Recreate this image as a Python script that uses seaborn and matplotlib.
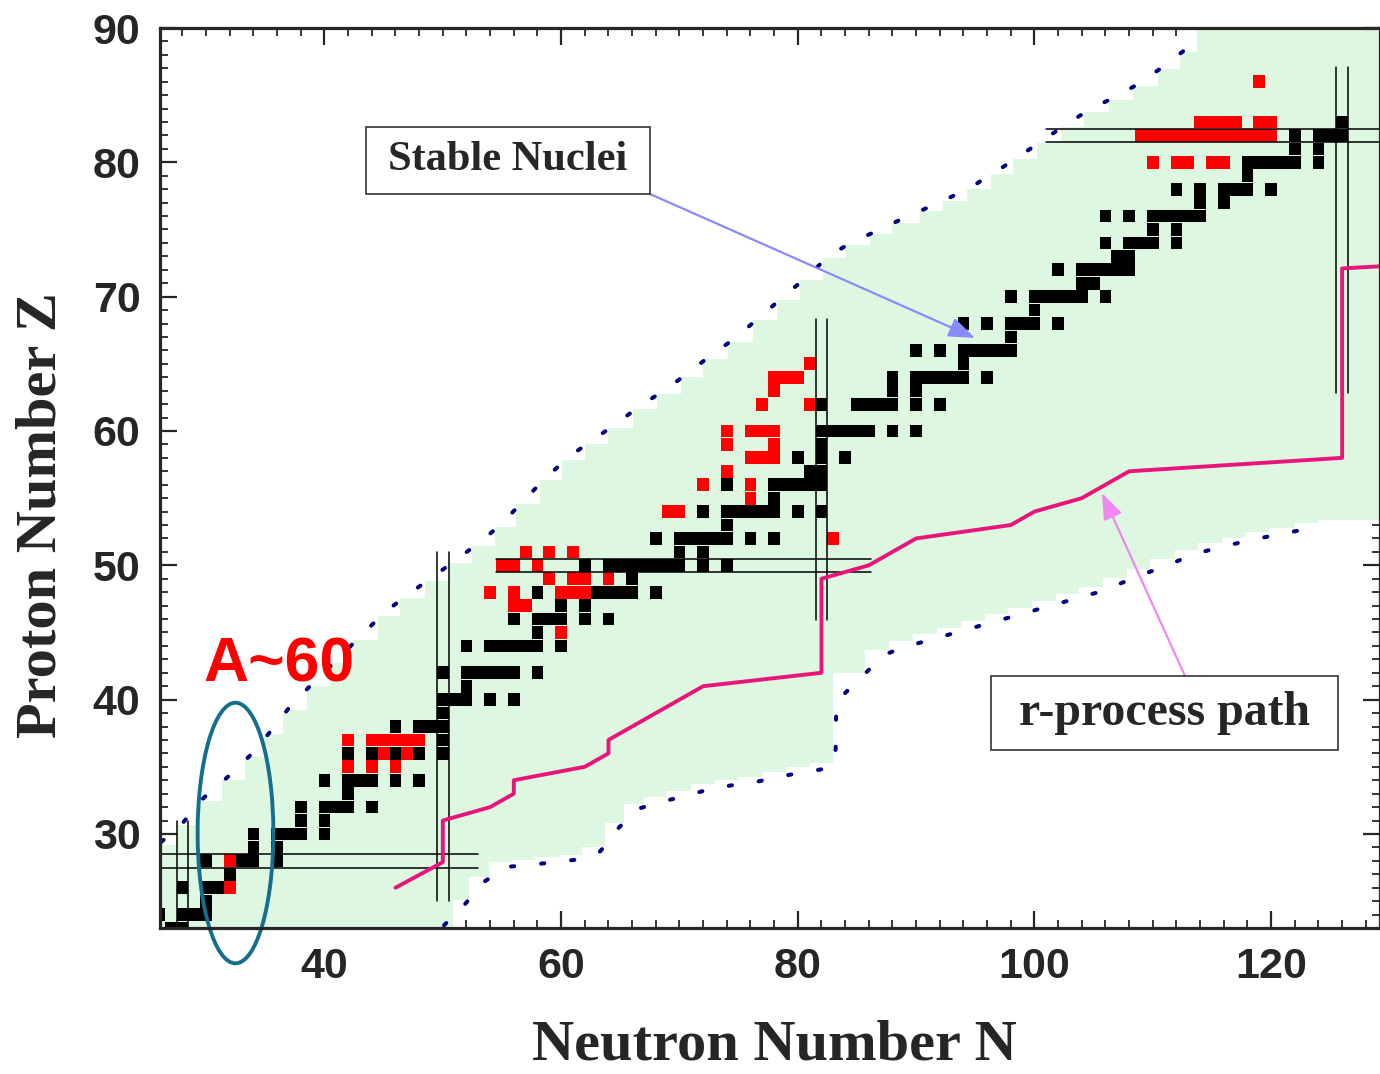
import matplotlib
matplotlib.use("Agg")
import matplotlib.pyplot as plt
import seaborn as sns
from matplotlib.patches import Ellipse, Rectangle
from matplotlib.ticker import MultipleLocator

sns.set_style("ticks")
plt.rcParams['font.family'] = ['Liberation Sans', 'DejaVu Sans']
plt.rcParams['font.weight'] = 'bold'

# ---------------- data ----------------
# stable nuclei: one list of neutron numbers per proton number
stable_Z = [23, 24, 25, 26, 27, 28, 29, 30, 31, 32, 33, 34, 35, 36, 37, 38, 39, 40, 41, 42,
            44, 45, 46, 47, 48, 49, 50, 51, 52, 53, 54, 55, 56, 57, 58, 59, 60,
            62, 63, 64, 65, 66, 67, 68, 69, 70, 71, 72, 73, 74, 75, 76, 77, 78, 79, 80,
            81, 82, 83]
stable_N = [[27, 28], [26, 28, 29, 30], [30], [28, 30, 31, 32], [32], [30, 32, 33, 34, 36],
            [34, 36], [34, 36, 37, 38, 40], [38, 40], [38, 40, 41, 42, 44], [42],
            [40, 42, 43, 44, 46, 48], [44, 46], [42, 44, 46, 47, 48, 50], [48, 50],
            [46, 48, 49, 50], [50], [50, 51, 52, 54, 56], [52], [50, 52, 53, 54, 55, 56, 58],
            [52, 54, 55, 56, 57, 58, 60], [58], [56, 58, 59, 60, 62, 64], [60, 62],
            [58, 60, 62, 63, 64, 65, 66, 68], [64, 66], [62, 64, 65, 66, 67, 68, 69, 70, 72, 74],
            [70, 72], [68, 70, 71, 72, 73, 74, 76, 78], [74], [70, 72, 74, 75, 76, 77, 78, 80, 82],
            [78], [74, 76, 78, 79, 80, 81, 82], [81, 82], [78, 80, 82, 84], [82],
            [82, 83, 84, 85, 86, 88, 90],
            [82, 85, 86, 87, 88, 90, 92], [88, 90], [88, 90, 91, 92, 93, 94, 96], [94],
            [90, 92, 94, 95, 96, 97, 98], [98], [94, 96, 98, 99, 100, 102], [100],
            [98, 100, 101, 102, 103, 104, 106], [104, 105], [102, 104, 105, 106, 107, 108],
            [107, 108], [106, 108, 109, 110, 112], [110, 112], [106, 108, 110, 111, 112, 113, 114],
            [114, 116], [112, 114, 116, 117, 118, 120], [118], [116, 118, 119, 120, 121, 122, 124],
            [122, 124], [122, 124, 125, 126], [126]]

# highlighted (red) nuclei
red_Z = [26, 28, 35, 36, 37, 45, 47, 48, 49, 50, 51, 52, 54, 55, 56, 57, 58, 59, 60,
         62, 63, 64, 65, 80, 82, 83, 86]
red_N = [[32], [32], [42, 44, 46], [45, 47], [42, 44, 45, 46, 47, 48], [60], [56, 57],
         [54, 56, 60, 61, 62], [59, 61, 62, 64], [55, 56, 58], [57, 59, 61], [83], [69, 70],
         [76], [72, 76], [74], [76, 77, 78], [74, 78], [74, 76, 77, 78],
         [77, 81], [78], [78, 79, 80], [81], [110, 112, 113, 115, 116],
         [109, 110, 111, 112, 113, 114, 115, 116, 117, 118, 119, 120],
         [114, 115, 116, 117, 119, 120], [119]]

# blue dotted limits
up_dot_N = [26.2, 28.1, 29.8, 31.9, 33.9, 35.5, 37.1, 39.1, 41.1, 43.0, 45.1, 47.0, 49.1,
            51.1, 53.1, 55.0, 56.8, 58.8, 60.7, 62.6, 64.6, 66.7, 68.7, 70.7, 72.6, 74.7,
            76.8, 78.8, 80.8, 82.7, 84.7, 86.7, 88.6, 90.9, 92.9, 94.9, 96.9, 98.8, 100.8,
            102.8, 104.8, 106.9, 108.9, 111.0, 112.9]
up_dot_Z = [29.4, 30.9, 32.7, 34.3, 36.0, 37.7, 39.5, 41.3, 43.0, 44.7, 46.5, 47.8, 49.1,
            50.4, 51.7, 53.1, 54.8, 56.6, 58.1, 59.3, 60.5, 61.9, 63.0, 64.3, 65.6, 66.9,
            68.5, 70.0, 71.5, 73.1, 74.1, 74.9, 75.7, 76.6, 77.4, 78.3, 79.4, 80.5, 81.7,
            82.9, 84.0, 84.9, 85.9, 87.2, 88.5]
lo_dot_N = [50.1, 51.8, 53.5, 55.4, 57.4, 59.4, 61.4, 63.3, 64.9, 66.6, 68.5, 70.6, 72.6,
            74.6, 76.6, 78.6, 80.6, 82.6, 83.2, 83.2, 83.3, 85.3, 87.3, 89.35, 91.4, 93.4,
            95.4, 97.4, 99.4, 101.4, 103.4, 105.4, 107.4, 109.4, 111.5, 113.4, 115.45,
            117.4, 119.5, 121.5, 123.6]
lo_dot_Z = [23.2, 24.7, 26.45, 27.55, 27.7, 27.9, 28.1, 28.7, 30.5, 31.9, 32.4, 32.85,
            33.35, 33.65, 33.9, 34.3, 34.6, 34.9, 36.3, 38.1, 39.9, 41.6, 43.35, 44.0, 44.5,
            45.0, 45.5, 46.0, 46.5, 47.0, 47.5, 48.0, 48.7, 49.4, 50.1, 50.8, 51.3, 51.7,
            52.1, 52.45, 52.8]

# green band of known nuclei: staircase corners
band_up_N = [20.0, 27.5, 29.2, 31.3, 33.3, 34.9, 36.5, 38.5, 40.5, 42.4, 44.5, 46.4, 48.5,
             50.5, 52.5, 54.4, 56.2, 58.2, 60.1, 62.0, 64.0, 66.1, 68.1, 70.1, 72.0, 74.1,
             76.2, 78.2, 80.2, 82.1, 84.1, 86.1, 88.0, 90.3, 92.3, 94.3, 96.3, 98.2, 100.2,
             102.2, 104.2, 106.3, 108.3, 110.4, 112.3, 113.7]
band_up_Z = [29.15, 30.65, 32.45, 34.05, 35.75, 37.45, 39.25, 41.05, 42.75, 44.45, 46.25,
             47.55, 48.85, 50.15, 51.45, 52.85, 54.55, 56.35, 57.85, 59.05, 60.25, 61.65,
             62.75, 64.05, 65.35, 66.65, 68.25, 69.75, 71.25, 72.85, 73.85, 74.65, 75.45,
             76.35, 77.15, 78.05, 79.15, 80.25, 81.45, 82.65, 83.75, 84.65, 85.65, 86.95,
             88.25, 95.0]
band_lo_N = [50.9, 52.2, 53.9, 55.8, 57.8, 59.8, 61.8, 63.7, 65.3, 67.0, 68.9, 71.0, 73.0,
             75.0, 77.0, 79.0, 81.0, 83.0, 83.0, 83.0, 83.0, 85.7, 87.7, 89.75, 91.8, 93.8,
             95.8, 97.8, 99.8, 101.8, 103.8, 105.8, 107.8, 109.8, 111.9, 113.8, 115.85,
             117.8, 119.9, 121.9, 124.0, 140.0]
band_lo_Z = [20.0, 25.05, 26.8, 27.9, 28.05, 28.25, 28.45, 29.05, 30.85, 32.25, 32.75, 33.2,
             33.7, 34.0, 34.25, 34.65, 34.95, 35.25, 36.65, 38.45, 40.25, 41.95, 43.7, 44.35,
             44.85, 45.35, 45.85, 46.35, 46.85, 47.35, 47.85, 48.35, 49.05, 49.75, 50.45,
             51.15, 51.65, 52.05, 52.45, 52.8, 53.15, 53.4]

# r-process path
r_N = [46, 50, 50, 54, 56, 56, 62, 64, 64, 72, 82, 82, 86, 90, 98, 100, 104, 108, 126, 126, 130]
r_Z = [26, 27.9, 31, 32, 33, 34, 35, 36, 37, 41, 42, 49, 50, 52, 53, 54, 55, 57, 58, 72.1, 72.3]

# magic-number double lines (edges of the magic cell) and their extents
magic_N = [28, 50, 82, 126]
magic_N_span = [(23, 31), (25, 51), (45.9, 68.3), (62.8, 87.1)]
magic_Z = [28, 50, 82]
magic_Z_span = [(26, 53), (54.5, 86.2), (101, 131)]

# ---------------- figure ----------------
W, H = 1380, 1074
fig = plt.figure(figsize=(W / 100, H / 100), dpi=100)
ax = fig.add_axes([160 / W, 146 / H, 1220 / W, 900 / H])
ax.set_xlim(26.1, 129.2)
ax.set_ylim(23, 90)

# green band
verts = [(band_up_N[0], 20.0)]
for i in range(len(band_up_N)):
    verts.append((band_up_N[i], band_up_Z[i - 1] if i > 0 else band_up_Z[0]))
    verts.append((band_up_N[i], band_up_Z[i]))
verts.append((140.0, band_up_Z[-1]))
low = []
for i in range(len(band_lo_N)):
    low.append((band_lo_N[i], band_lo_Z[i]))
    if i + 1 < len(band_lo_Z):
        low.append((band_lo_N[i], band_lo_Z[i + 1]))
verts += low[::-1]
ax.fill([v[0] for v in verts], [v[1] for v in verts], color='#ddf7e1', lw=0, zorder=1)

# dotted limits
for xs, ys in [(up_dot_N, up_dot_Z), (lo_dot_N, lo_dot_Z)]:
    ax.plot(xs, ys, color='#000080', lw=2.9, linestyle=(0, (0.8, 6.7)),
            dash_capstyle='round', zorder=2)

# cells
cell_h = 0.95
sN = [n for ns in stable_N for n in ns]
sZ = [z for z, ns in zip(stable_Z, stable_N) for _ in ns]
ax.bar(sN, cell_h, width=1.0, bottom=[z - cell_h / 2 for z in sZ], color='black',
       linewidth=0, zorder=3)
rN = [n for ns in red_N for n in ns]
rZ = [z for z, ns in zip(red_Z, red_N) for _ in ns]
ax.bar(rN, cell_h, width=1.0, bottom=[z - cell_h / 2 for z in rZ], color='#ff0000',
       linewidth=0, zorder=4)

# magic lines
for n, (z0, z1) in zip(magic_N, magic_N_span):
    for off in (-0.5, 0.5):
        ax.plot([n + off, n + off], [z0, z1], color='black', lw=1.1, zorder=5)
for z, (n0, n1) in zip(magic_Z, magic_Z_span):
    for off in (-0.5, 0.5):
        ax.plot([n0, n1], [z + off, z + off], color='black', lw=1.1, zorder=5)

# r-process path
sns.lineplot(x=r_N, y=r_Z, sort=False, estimator=None, color='#e8157b', lw=2.8,
             zorder=6, ax=ax)

# axes cosmetics
ax.xaxis.set_major_locator(MultipleLocator(20))
ax.xaxis.set_minor_locator(MultipleLocator(2))
ax.yaxis.set_major_locator(MultipleLocator(10))
ax.yaxis.set_minor_locator(MultipleLocator(1))
ax.tick_params(which='both', direction='in', top=True, right=True)
ax.tick_params(which='major', length=12, width=1.6, labelsize=31, pad=14)
ax.tick_params(which='minor', length=6, width=1.3)
for sp in ax.spines.values():
    sp.set_linewidth(2.3)
    sp.set_zorder(10)

serif = ['Liberation Serif', 'DejaVu Serif']
fig.text(42 / W, 1 - 515 / H, 'Proton Number Z', rotation=90, ha='center', va='center',
         fontsize=42, family=serif, fontweight='bold')
fig.text(774 / W, 1 - 1046 / H, 'Neutron Number N', ha='center', va='center',
         fontsize=42, family=serif, fontweight='bold')

# annotation boxes
def box(x0, y0, x1, y1, label, size):
    fig.patches.append(Rectangle((x0 / W, 1 - y1 / H), (x1 - x0) / W, (y1 - y0) / H,
                                 transform=fig.transFigure, facecolor='white',
                                 edgecolor='#333333', lw=1.2, zorder=20))
    fig.text((x0 + x1) / 2 / W, 1 - (y0 + y1) / 2 / H, label, ha='center', va='center',
             fontsize=size, family=serif, fontweight='bold', zorder=21)

box(366, 127, 650, 194, 'Stable Nuclei', 30.5)
box(991, 676, 1338, 750, 'r-process path', 34.5)

arrow_style = '-|>,head_length=1.6,head_width=0.6'
ax.annotate('', xy=(975 / W, 1 - 338 / H), xytext=(650 / W, 1 - 194 / H),
            xycoords='figure fraction', textcoords='figure fraction',
            arrowprops=dict(arrowstyle=arrow_style, color='#8a8aff', lw=1.6,
                            shrinkA=0, shrinkB=0), zorder=8)
ax.annotate('', xy=(1102 / W, 1 - 493 / H), xytext=(1185 / W, 1 - 676 / H),
            xycoords='figure fraction', textcoords='figure fraction',
            arrowprops=dict(arrowstyle=arrow_style, color='#ee88ee', lw=1.6,
                            shrinkA=0, shrinkB=0), zorder=8)

# A~60 mark
ax.add_patch(Ellipse((32.48, 30.07), 6.4, 19.4, fill=False, edgecolor='#146f8f',
                     lw=2.8, zorder=9, clip_on=False))
ax.text(36.2, 42.6, 'A~60', color='#ff0000', fontsize=45, fontweight='bold',
        ha='center', va='center', zorder=9)

fig.savefig('out.png', dpi=100)
